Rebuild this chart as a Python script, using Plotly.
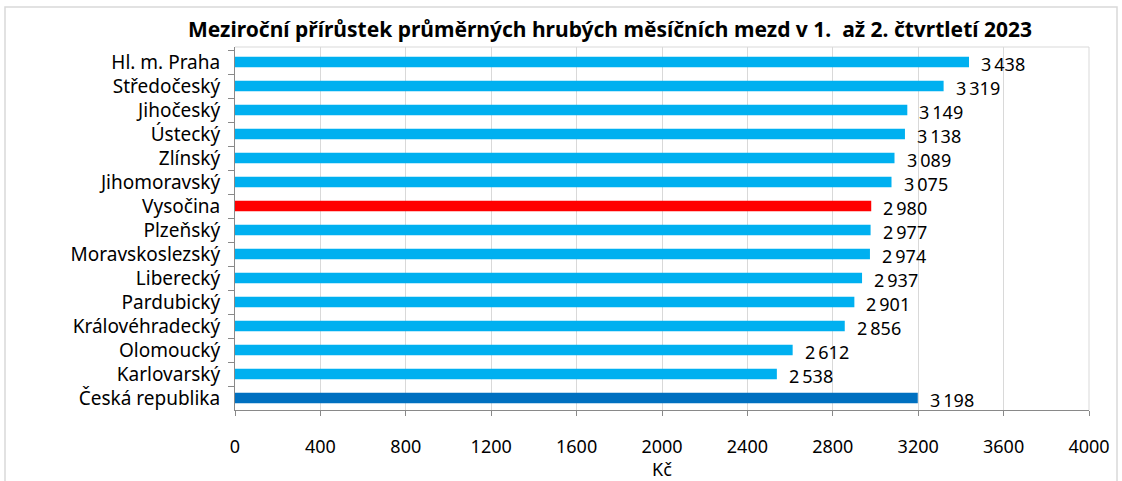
import plotly.graph_objects as go

categories = ["Hl. m. Praha", "Středočeský", "Jihočeský", "Ústecký", "Zlínský", "Jihomoravský",
              "Vysočina", "Plzeňský", "Moravskoslezský", "Liberecký", "Pardubický",
              "Královéhradecký", "Olomoucký", "Karlovarský", "Česká republika"]
values = [3438, 3319, 3149, 3138, 3089, 3075, 2980, 2977, 2974, 2937, 2901, 2856, 2612, 2538, 3198]
highlight = {"Vysočina": "#FF0000", "Česká republika": "#0070C0"}
base_color = "#00B0F0"
x_ticks = [0, 400, 800, 1200, 1600, 2000, 2400, 2800, 3200, 3600, 4000]
title = "Meziroční přírůstek průměrných hrubých měsíčních mezd v 1.  až 2. čtvrtletí 2023"
x_title = "Kč"

FONT = "Noto Sans"
W, H = 1122, 481
L, R, T, B = 235, 1089, 47, 410
colors = [highlight.get(c, base_color) for c in categories]

fig = go.Figure()
fig.add_trace(go.Bar(
    x=values, y=categories, orientation="h",
    marker=dict(color=colors, line=dict(width=0)),
    width=0.43, hoverinfo="skip",
))

for c, v in zip(categories, values):
    fig.add_annotation(
        x=v, y=c, xref="x", yref="y",
        text=f"{v:,}".replace(",", "\u2009"),
        showarrow=False, xanchor="left", yanchor="middle",
        xshift=11, yshift=-2, borderpad=0,
        font=dict(family=FONT, size=18, color="#000000"),
    )

pw, ph = R - L, B - T
# outer chart frame
fig.add_shape(type="rect", xref="paper", yref="paper",
              x0=(5 - L) / pw, x1=(1117 - L) / pw,
              y0=(B - 490) / ph, y1=(B - 7) / ph,
              line=dict(color="#D9D9D9", width=1.5), fillcolor="rgba(0,0,0,0)", layer="below")
# plot area top/right border
fig.add_shape(type="line", xref="paper", yref="paper", x0=0, x1=1, y0=1, y1=1,
              line=dict(color="#D9D9D9", width=1))
fig.add_shape(type="line", xref="paper", yref="paper", x0=1, x1=1, y0=0, y1=1,
              line=dict(color="#D9D9D9", width=1))

fig.update_layout(
    width=W, height=H,
    margin=dict(l=L, r=W - R, t=T, b=H - B, autoexpand=False),
    paper_bgcolor="white", plot_bgcolor="white",
    showlegend=False,
    title=dict(text=f"<b>{title}</b>", x=610 / W, xanchor="center",
               y=1 - 30 / H, yanchor="middle",
               font=dict(family=FONT, size=21, color="#000000")),
    xaxis=dict(
        range=[0, 4000], tickvals=x_ticks, ticktext=[str(t) for t in x_ticks],
        showgrid=True, gridcolor="#D9D9D9", gridwidth=1,
        showline=True, linecolor="#898989", linewidth=1,
        ticks="outside", ticklen=5, tickcolor="#898989",
        ticklabelstandoff=15,
        tickfont=dict(family=FONT, size=18, color="#000000"),
        title=dict(text=x_title, font=dict(family=FONT, size=18, color="#000000"), standoff=1),
        zeroline=False, fixedrange=True,
    ),
    yaxis=dict(
        categoryorder="array", categoryarray=categories, autorange="reversed",
        showline=True, linecolor="#898989", linewidth=1,
        ticks="outside", ticklen=6, tickcolor="#898989", tickson="boundaries",
        ticklabelstandoff=10,
        tickfont=dict(family=FONT, size=19, color="#000000"),
        showgrid=False, fixedrange=True,
    ),
)

fig.write_html("out.html",
               config={"displayModeBar": False, "staticPlot": True},
               post_script="document.documentElement.style.margin='0';"
                           "document.body.style.margin='0';"
                           "document.body.style.overflow='hidden';")
